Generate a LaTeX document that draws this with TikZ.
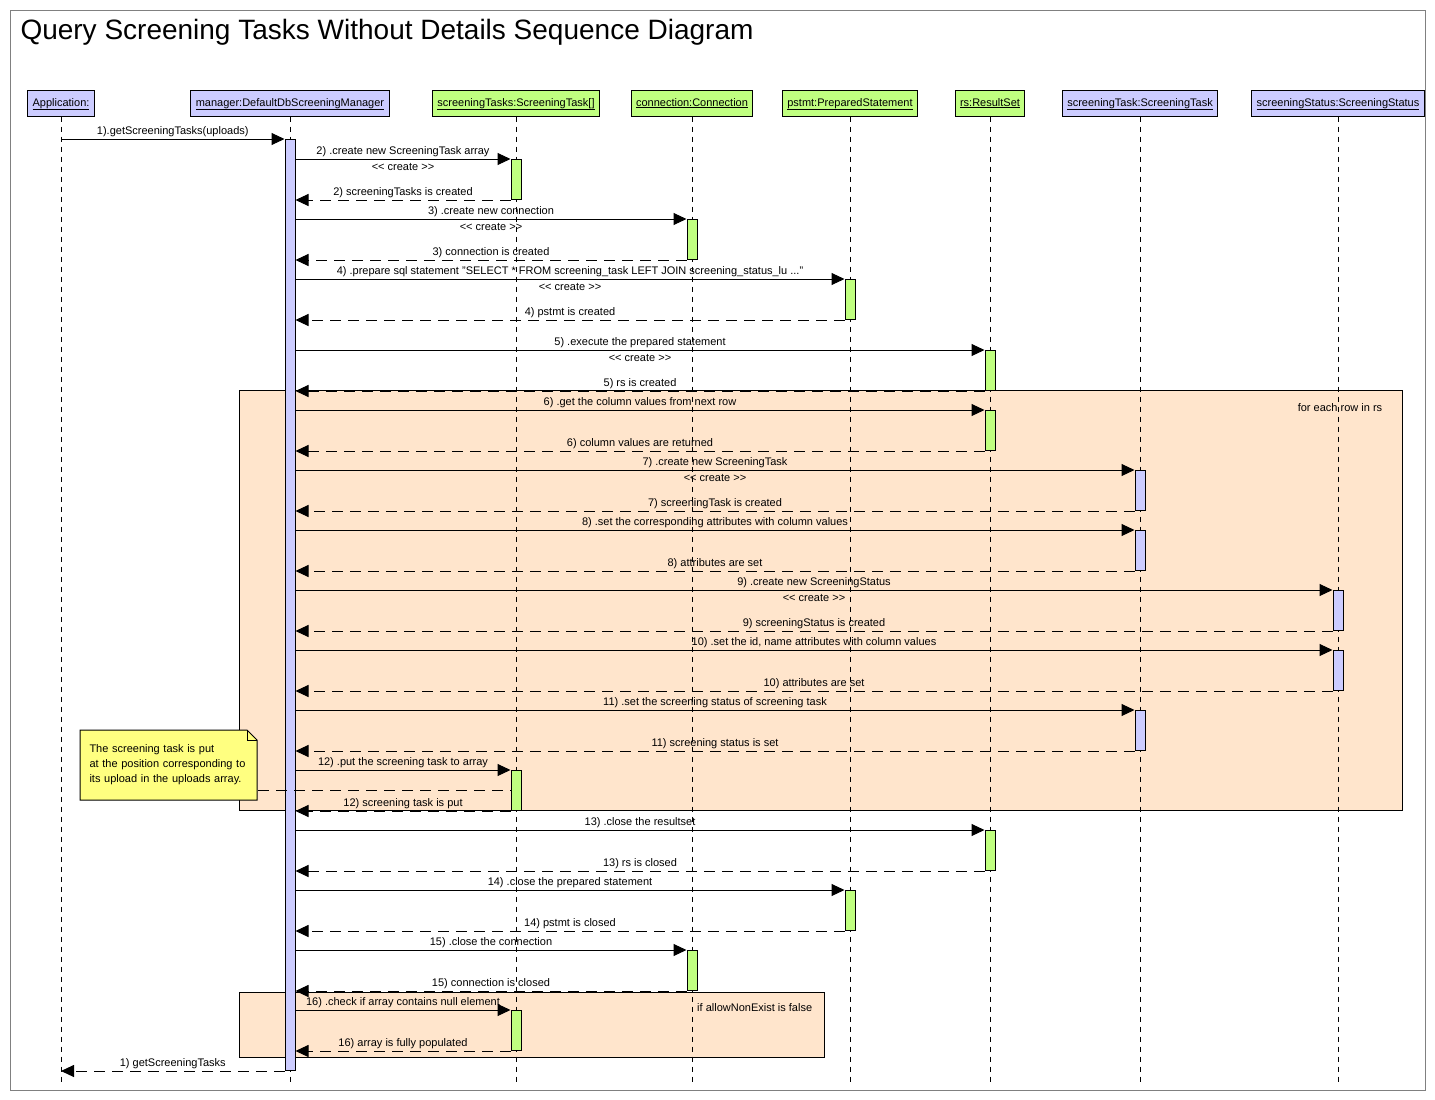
\documentclass[tikz,border=0pt]{standalone}
\usepackage{fontspec}
\setmainfont{Liberation Sans}
\usetikzlibrary{arrows.meta,positioning}

\definecolor{objblue}{RGB}{204,204,255}
\definecolor{objgreen}{RGB}{192,255,128}
\definecolor{fragfill}{RGB}{255,229,204}
\definecolor{notefill}{RGB}{255,255,128}

\begin{document}
\begin{tikzpicture}[x=1pt, y=-1pt, line width=1pt,
        every node/.style={font=\fontsize{11}{13}\selectfont},
        obj/.style={draw, minimum height=26pt, inner xsep=5pt, inner ysep=0pt, text height=8pt, text depth=2pt},
        objb/.style={obj, fill=objblue},
        objg/.style={obj, fill=objgreen},
        life/.style={line width=0.9pt, dash pattern=on 5pt off 5pt},
        act/.style={draw, minimum width=10pt, minimum height=40pt, inner sep=0pt, anchor=north},
        actb/.style={act, fill=objblue},
        actg/.style={act, fill=objgreen},
        call/.style={-{Triangle[length=13pt,width=12pt]}},
        ret/.style={call, dash pattern=on 11pt off 7pt},
        lbl/.style={above, inner sep=1.5pt},
        crt/.style={below, inner sep=3.5pt},
        frag/.style={draw, fill=fragfill, anchor=north west, inner sep=0pt}]
    \useasboundingbox (0,0) rectangle (1435,1100);
    \draw [gray] (10,10) rectangle (1425,1090);
    \node [anchor=base west, inner sep=0pt, font=\fontsize{28}{32}\selectfont] (title) at (20,39)
        {Query Screening Tasks Without Details Sequence Diagram};

    \node [frag, minimum width=1163pt, minimum height=420pt] (loop) at (239,390) {};
    \node [anchor=east] (looplbl) at (1386,408) {for each row in rs};
    \node [frag, minimum width=585pt, minimum height=65pt] (opt) at (239,992) {};
    \node [anchor=east] (optlbl) at (816,1008) {if allowNonExist is false};

    \node [objb] (app) at (61,103) {\underline{Application:}};
    \node [objb] (mgr) at (290,103) {\underline{manager:DefaultDbScreeningManager}};
    \node [objg] (tasks) at (516,103) {\underline{screeningTasks:ScreeningTask[]}};
    \node [objg] (conn) at (692,103) {\underline{connection:Connection}};
    \node [objg] (pstmt) at (850,103) {\underline{pstmt:PreparedStatement}};
    \node [objg] (rs) at (990,103) {\underline{rs:ResultSet}};
    \node [objb] (task) at (1140,103) {\underline{screeningTask:ScreeningTask}};
    \node [objb] (status) at (1338,103) {\underline{screeningStatus:ScreeningStatus}};

    \coordinate (bottom) at (0,1085);
    \foreach \o in {app,mgr,tasks,conn,pstmt,rs,task,status}
        \draw [life] (\o.south) -- (\o.south |- bottom);

    \node [actb, minimum height=931pt] (mact) at (mgr |- 0,139) {};
    \foreach \n/\o/\y/\s in {a2/tasks/159/actg, a3/conn/219/actg, a4/pstmt/279/actg,
            a5/rs/350/actg, a6/rs/410/actg, a7/task/470/actb, a8/task/530/actb,
            a9/status/590/actb, a10/status/650/actb, a11/task/710/actb,
            a12/tasks/770/actg, a13/rs/830/actg, a14/pstmt/890/actg,
            a15/conn/950/actg, a16/tasks/1010/actg}
        \node [\s] (\n) at (\o |- 0,\y) {};

    \draw [call] (app |- mact.north) -- node[lbl] {1).getScreeningTasks(uploads)} (mact.north west);
    \draw [call] (mact.east |- a2.north) -- node[lbl] {2) .create new ScreeningTask array}
        node[crt] {{<}{<} create {>}{>}} (a2.north west);
    \draw [ret] (a2.south west) -- node[lbl] {2) screeningTasks is created} (mact.east |- a2.south);
    \draw [call] (mact.east |- a3.north) -- node[lbl] {3) .create new connection}
        node[crt] {{<}{<} create {>}{>}} (a3.north west);
    \draw [ret] (a3.south west) -- node[lbl] {3) connection is created} (mact.east |- a3.south);
    \draw [call] (mact.east |- a4.north) -- node[lbl] {4) .prepare sql statement "SELECT * FROM screening\_task LEFT JOIN screening\_status\_lu ..."}
        node[crt] {{<}{<} create {>}{>}} (a4.north west);
    \draw [ret] (a4.south west) -- node[lbl] {4) pstmt is created} (mact.east |- a4.south);
    \draw [call] (mact.east |- a5.north) -- node[lbl] {5) .execute the prepared statement}
        node[crt] {{<}{<} create {>}{>}} (a5.north west);
    \draw [ret] (a5.south west) -- node[lbl] {5) rs is created} (mact.east |- a5.south);
    \draw [call] (mact.east |- a6.north) -- node[lbl] {6) .get the column values from next row} (a6.north west);
    \draw [ret] (a6.south west) -- node[lbl] {6) column values are returned} (mact.east |- a6.south);
    \draw [call] (mact.east |- a7.north) -- node[lbl] {7) .create new ScreeningTask}
        node[crt] {{<}{<} create {>}{>}} (a7.north west);
    \draw [ret] (a7.south west) -- node[lbl] {7) screeningTask is created} (mact.east |- a7.south);
    \draw [call] (mact.east |- a8.north) -- node[lbl] {8) .set the corresponding attributes with column values} (a8.north west);
    \draw [ret] (a8.south west) -- node[lbl] {8) attributes are set} (mact.east |- a8.south);
    \draw [call] (mact.east |- a9.north) -- node[lbl] {9) .create new ScreeningStatus}
        node[crt] {{<}{<} create {>}{>}} (a9.north west);
    \draw [ret] (a9.south west) -- node[lbl] {9) screeningStatus is created} (mact.east |- a9.south);
    \draw [call] (mact.east |- a10.north) -- node[lbl] {10) .set the id, name attributes with column values} (a10.north west);
    \draw [ret] (a10.south west) -- node[lbl] {10) attributes are set} (mact.east |- a10.south);
    \draw [call] (mact.east |- a11.north) -- node[lbl] {11) .set the screening status of screening task} (a11.north west);
    \draw [ret] (a11.south west) -- node[lbl] {11) screening status is set} (mact.east |- a11.south);
    \draw [call] (mact.east |- a12.north) -- node[lbl] {12) .put the screening task to array} (a12.north west);
    \draw [ret] (a12.south west) -- node[lbl] {12) screening task is put} (mact.east |- a12.south);
    \draw [call] (mact.east |- a13.north) -- node[lbl] {13) .close the resultset} (a13.north west);
    \draw [ret] (a13.south west) -- node[lbl] {13) rs is closed} (mact.east |- a13.south);
    \draw [call] (mact.east |- a14.north) -- node[lbl] {14) .close the prepared statement} (a14.north west);
    \draw [ret] (a14.south west) -- node[lbl] {14) pstmt is closed} (mact.east |- a14.south);
    \draw [call] (mact.east |- a15.north) -- node[lbl] {15) .close the connection} (a15.north west);
    \draw [ret] (a15.south west) -- node[lbl] {15) connection is closed} (mact.east |- a15.south);
    \draw [call] (mact.east |- a16.north) -- node[lbl] {16) .check if array contains null element} (a16.north west);
    \draw [ret] (a16.south west) -- node[lbl] {16) array is fully populated} (mact.east |- a16.south);
    \draw [ret] (mact.south west) -- node[lbl] {1) getScreeningTasks} (app |- mact.south);

    \filldraw [fill=notefill] (80,730) -- (247,730) -- (257,740) -- (257,800) -- (80,800) -- cycle;
    \draw (247,730) -- (247,740) -- (257,740);
    \node [anchor=north west, minimum height=68pt, text width=159pt, inner xsep=9pt, align=left,
        font=\fontsize{11}{15}\selectfont] (note) at (80,730)
        {The screening task is put\\at the position corresponding to\\its upload in the uploads array.};
    \draw [dash pattern=on 11pt off 7pt] (note.east |- a12.west) -- (a12.west);
\end{tikzpicture}
\end{document}
